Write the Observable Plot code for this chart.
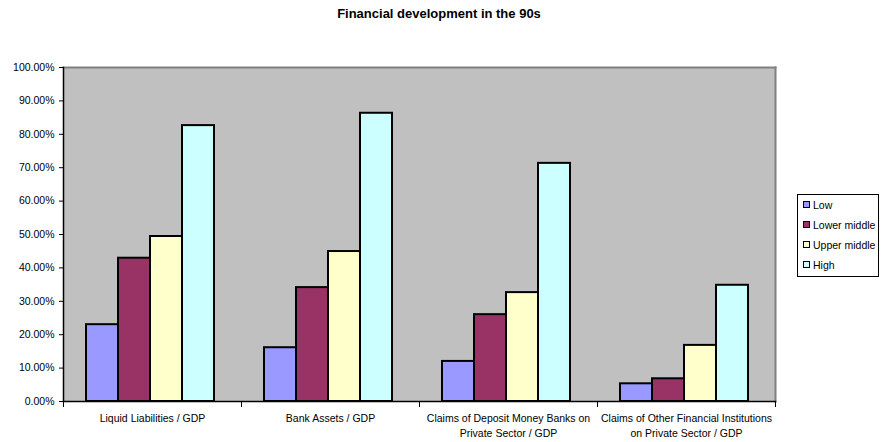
<!DOCTYPE html>
<html>
<head>
<meta charset="utf-8">
<script src="https://cdn.jsdelivr.net/npm/d3@7"></script>
<script src="https://cdn.jsdelivr.net/npm/@observablehq/plot@0.6"></script>
<style>
  html, body { margin: 0; padding: 0; background: #fff; }
  #wrap { position: relative; width: 882px; height: 442px; font-family: Arial, "Liberation Sans", sans-serif; }
  #title { position: absolute; left: 0; top: 6px; width: 878px; text-align: center; font-weight: bold; font-size: 13px; color: #000; }
  #chart { position: absolute; left: 0; top: 0; }
  #legend { position: absolute; left: 797px; top: 194px; width: 82px; height: 83px; border: 1px solid #000; background: #fff; box-sizing: border-box; }
  .item { position: absolute; left: 5px; font-size: 10.5px; color: #000; line-height: 12px; white-space: nowrap; }
  .sw { display: inline-block; width: 5px; height: 5px; border: 1.5px solid #000; margin-right: 3px; vertical-align: 1px; }
</style>
</head>
<body>
<div id="wrap">
  <div id="chart"></div>
  <div id="title">Financial development in the 90s</div>
  <div id="legend"></div>
</div>
<script>
const categories = [
  "Liquid Liabilities / GDP",
  "Bank Assets / GDP",
  "Claims of Deposit Money Banks on\nPrivate Sector / GDP",
  "Claims of Other Financial Institutions\non Private Sector / GDP"
];
const series = ["Low", "Lower middle", "Upper middle", "High"];
const colors = ["#9999FF", "#993366", "#FFFFCC", "#CCFFFF"];
const low = [0.230, 0.161, 0.120, 0.053];
const lowerMiddle = [0.429, 0.341, 0.260, 0.068];
const upperMiddle = [0.494, 0.449, 0.326, 0.168];
const high = [0.826, 0.863, 0.713, 0.348];
const yTicks = [0, 0.1, 0.2, 0.3, 0.4, 0.5, 0.6, 0.7, 0.8, 0.9, 1.0];

const valuesBySeries = [low, lowerMiddle, upperMiddle, high];
const data = [];
categories.forEach((c, i) => {
  series.forEach((s, j) => data.push({category: c, series: s, value: valuesBySeries[j][i]}));
});

const W = 882, H = 442, mT = 67, mB = 41, mL = 62, mR = 106;
const plotH = H - mT - mB;

const chart = Plot.plot({
  width: W,
  height: H,
  marginTop: mT,
  marginBottom: mB,
  marginLeft: mL,
  marginRight: mR,
  style: {fontFamily: "Arial, 'Liberation Sans', sans-serif", fontSize: "10.5px", color: "#000", background: "transparent"},
  fx: {domain: categories, padding: 0, axis: null},
  x: {domain: series, paddingInner: 0, paddingOuter: 0.72, align: 0.45, axis: null},
  y: {domain: [0, 1], axis: null},
  color: {domain: series, range: colors},
  marks: [
    Plot.frame({facet: "super", fill: "#C0C0C0", stroke: null}),
    Plot.frame({facet: "super", anchor: "top", stroke: "#808080", strokeWidth: 2}),
    Plot.frame({facet: "super", anchor: "right", stroke: "#808080", strokeWidth: 2}),
    Plot.barY(data, {fx: "category", x: "series", y: "value", fill: "series", stroke: "#000", strokeWidth: 2}),
    Plot.frame({facet: "super", anchor: "left", stroke: "#000", strokeWidth: 1.5}),
    Plot.frame({facet: "super", anchor: "bottom", stroke: "#000", strokeWidth: 1.5}),
    Plot.frame({anchor: "left", stroke: "#000", strokeWidth: 1, insetTop: plotH, insetBottom: -5}),
    Plot.frame({anchor: "right", stroke: "#000", strokeWidth: 1, insetTop: plotH, insetBottom: -5}),
    Plot.axisY({ticks: yTicks, tickFormat: d3.format(".2%"), tickSize: 4, tickPadding: 5, stroke: "#000", fontSize: 10.5, label: null}),
    Plot.axisFx({anchor: "bottom", tickSize: 0, tickPadding: 10, fontSize: 10.5, lineHeight: 1.4, label: null})
  ]
});
document.getElementById("chart").appendChild(chart);

const legend = document.getElementById("legend");
series.forEach((s, i) => {
  const d = document.createElement("div");
  d.className = "item";
  d.style.top = (4 + i * 20) + "px";
  const sw = document.createElement("span");
  sw.className = "sw";
  sw.style.background = colors[i];
  d.appendChild(sw);
  d.appendChild(document.createTextNode(s));
  legend.appendChild(d);
});
</script>
</body>
</html>
